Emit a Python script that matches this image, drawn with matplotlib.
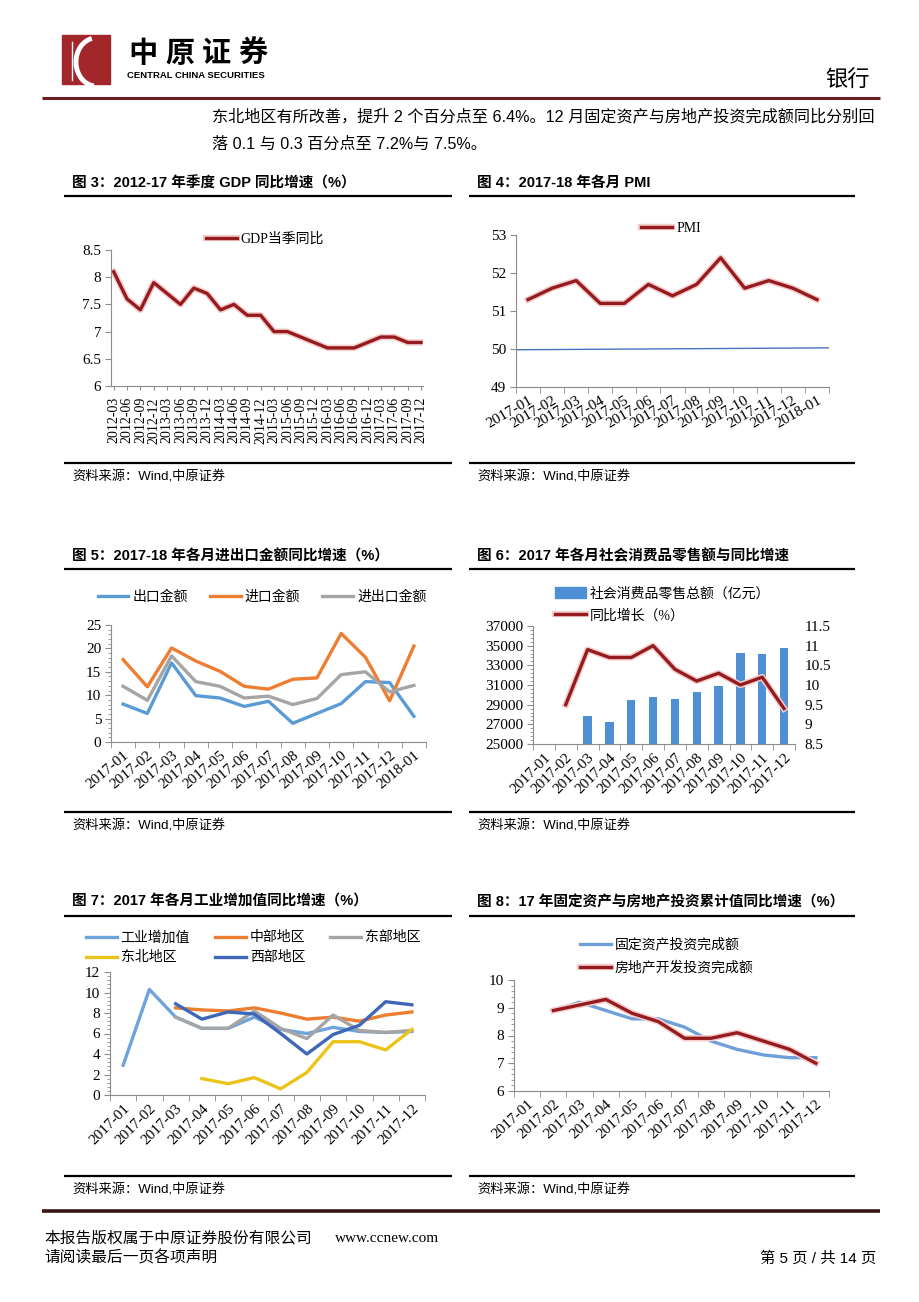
import matplotlib
matplotlib.use('Agg')
import matplotlib.pyplot as plt
import matplotlib.patheffects as pe
from matplotlib.patches import Patch, Rectangle, Arc
from matplotlib.ticker import FuncFormatter
import numpy as np

nan = np.nan
W, H = 920, 1302

SERIF = ['Liberation Serif', 'Noto Sans CJK SC']
SANS = ['Liberation Sans', 'Noto Sans CJK SC']
plt.rcParams['font.family'] = SERIF

DARKRED = '#951b1e'
AXIS_GRAY = '#8c8c8c'

# ---- data ----
gdp_quarters = ['2012-03', '2012-06', '2012-09', '2012-12', '2013-03', '2013-06', '2013-09', '2013-12',
                '2014-03', '2014-06', '2014-09', '2014-12', '2015-03', '2015-06', '2015-09', '2015-12',
                '2016-03', '2016-06', '2016-09', '2016-12', '2017-03', '2017-06', '2017-09', '2017-12']
gdp_yoy = [8.1, 7.6, 7.4, 7.9, 7.7, 7.5, 7.8, 7.7, 7.4, 7.5, 7.3, 7.3,
           7.0, 7.0, 6.9, 6.8, 6.7, 6.7, 6.7, 6.8, 6.9, 6.9, 6.8, 6.8]

months_13 = ['2017-01', '2017-02', '2017-03', '2017-04', '2017-05', '2017-06', '2017-07',
             '2017-08', '2017-09', '2017-10', '2017-11', '2017-12', '2018-01']
months_12 = months_13[:12]

pmi = [51.3, 51.6, 51.8, 51.2, 51.2, 51.7, 51.4, 51.7, 52.4, 51.6, 51.8, 51.6, 51.3]
pmi_50_line = [49.98, 50.03]   # thin reference line, left and right end

export_yoy = [8.1, 6.1, 16.9, 9.9, 9.4, 7.6, 8.7, 4.0, 6.1, 8.2, 12.9, 12.7, 5.5]
import_yoy = [17.6, 11.8, 20.1, 17.3, 15.1, 11.9, 11.3, 13.4, 13.7, 23.2, 18.1, 8.8, 20.5]
trade_yoy = [11.9, 8.9, 18.4, 12.9, 11.9, 9.4, 9.8, 8.0, 9.3, 14.4, 15.0, 10.7, 12.1]

retail_sales = [nan, nan, 27864, 27278, 29459, 29808, 29610, 30330, 30870, 34240, 34108, 34734]
retail_yoy = [nan, 9.5, 10.9, 10.7, 10.7, 11.0, 10.4, 10.1, 10.3, 10.0, 10.2, 9.4]

ind_total = [2.9, 10.3, 7.6, 6.5, 6.5, 7.6, 6.4, 6.0, 6.6, 6.2, 6.1, 6.2]
ind_central = [nan, nan, 8.5, 8.3, 8.2, 8.5, 8.0, 7.4, 7.6, 7.2, 7.8, 8.1]
ind_east = [nan, nan, 7.6, 6.5, 6.5, 8.2, 6.5, 5.5, 7.8, 6.3, 6.1, 6.3]
ind_northeast = [nan, nan, nan, 1.6, 1.1, 1.7, 0.6, 2.2, 5.2, 5.2, 4.4, 6.4]
ind_west = [nan, nan, 8.9, 7.4, 8.1, 7.9, 6.0, 4.0, 5.9, 6.8, 9.1, 8.8]

fai_yoy = [nan, 8.9, 9.2, 8.9, 8.6, 8.6, 8.3, 7.8, 7.5, 7.3, 7.2, 7.2]
property_yoy = [nan, 8.9, 9.1, 9.3, 8.8, 8.5, 7.9, 7.9, 8.1, 7.8, 7.5, 7.0]

fig = plt.figure(figsize=(W / 100, H / 100), dpi=100)

# page layer in pixel coordinates
bg = fig.add_axes([0, 0, 1, 1])
bg.set_xlim(0, W)
bg.set_ylim(H, 0)
bg.axis('off')


def hline(y, x0, x1, lw=1.6, color='black'):
    bg.plot([x0, x1], [y, y], color=color, lw=lw, solid_capstyle='butt')


def box(x0, y0, x1, y1):
    ax = fig.add_axes([x0 / W, 1 - y1 / H, (x1 - x0) / W, (y1 - y0) / H])
    ax.set_facecolor('none')
    for s in ('top', 'right'):
        ax.spines[s].set_visible(False)
    for s in ('left', 'bottom'):
        ax.spines[s].set_color(AXIS_GRAY)
        ax.spines[s].set_linewidth(0.8)
    return ax


def panel(x0, x1, y_title, y_top, y_bot, title):
    bg.text(x0 + 8, y_title, title, family=SANS, weight='bold', fontsize=10.5, va='center')
    hline(y_top, x0, x1)
    hline(y_bot, x0, x1)
    bg.text(x0 + 8, y_bot + 14, '资料来源：Wind,中原证券', family=SANS, fontsize=9.5, va='center')


def cat_axis(ax, labels, rot):
    n = len(labels)
    ax.set_xlim(-0.5, n - 0.5)
    ax.set_xticks(range(n))
    ax.set_xticklabels(labels, rotation=rot, ha='right', va='top', rotation_mode='anchor', fontsize=11)
    ax.set_xticks(np.arange(-0.5, n), minor=True)
    ax.tick_params(axis='x', which='major', length=0, pad=5)
    ax.tick_params(axis='x', which='minor', length=4, color=AXIS_GRAY, direction='out')


def val_axis(ax, lo, hi, step, minor=None):
    ax.set_ylim(lo, hi)
    ax.set_yticks(np.arange(lo, hi + step / 2, step))
    ax.yaxis.set_major_formatter(FuncFormatter(lambda v, p: f'{v:g}'))
    if minor:
        ax.set_yticks(np.arange(lo, hi + minor / 2, minor), minor=True)
    ax.tick_params(axis='y', which='both', direction='out', color=AXIS_GRAY, labelsize=11)
    ax.tick_params(axis='y', which='major', length=4, pad=3)
    ax.tick_params(axis='y', which='minor', length=2)


glow = [pe.Stroke(linewidth=4.6, foreground='#f4cccc'), pe.Normal()]

# ---- header ----
bg.add_patch(Rectangle((62, 35), 48, 49, color='#a3262b'))
bg.add_patch(Arc((96, 62), 40, 48, theta1=95, theta2=260, color='white', lw=3.5))
bg.plot([72, 72], [42, 80], color='white', lw=1)
for i, ch in enumerate('中原证券'):
    bg.text(143 + 36.5 * i, 54, ch, family=SANS, weight='bold', fontsize=21, ha='center', va='center')
bg.text(196, 75, 'CENTRAL CHINA SECURITIES', family=SANS, weight='bold', fontsize=6.8, ha='center', va='center')
bg.text(870, 81, '银行', family=SANS, fontsize=16, ha='right', va='center')
hline(97.5, 42, 880, lw=2.2, color='#6b1f22')

bg.text(212, 116, '东北地区有所改善，提升 2 个百分点至 6.4%。12 月固定资产与房地产投资完成额同比分别回',
        family=SANS, fontsize=11.6, va='center')
bg.text(212, 144, '落 0.1 与 0.3 百分点至 7.2%与 7.5%。', family=SANS, fontsize=11.6, va='center')

# ---- panel frames ----
panel(64, 452, 183, 196, 463, '图 3：2012-17 年季度 GDP 同比增速（%）')
panel(469, 855, 183, 196, 463, '图 4：2017-18 年各月 PMI')
panel(64, 452, 556, 569, 812, '图 5：2017-18 年各月进出口金额同比增速（%）')
panel(469, 855, 556, 569, 812, '图 6：2017 年各月社会消费品零售额与同比增速')
panel(64, 452, 902, 916, 1176, '图 7：2017 年各月工业增加值同比增速（%）')
panel(469, 855, 902, 916, 1176, '图 8：17 年固定资产与房地产投资累计值同比增速（%）')

leg_kw = dict(frameon=False, bbox_transform=bg.transData, prop={'family': SERIF, 'size': 10},
              handlelength=2.2, handletextpad=0.3, borderpad=0, borderaxespad=0)

# ---- chart 3: GDP ----
ax = box(111, 250, 423, 386)
x = np.arange(len(gdp_yoy))
l1, = ax.plot(x, gdp_yoy, color=DARKRED, lw=2.4, path_effects=glow)
ax.set_xlim(-0.2, len(gdp_yoy) - 0.85)
ax.set_xticks(x)
ax.set_xticklabels(gdp_quarters, rotation=90, fontsize=10)
ax.tick_params(axis='x', length=3, color=AXIS_GRAY, pad=5)
val_axis(ax, 6, 8.5, 0.5)
ax.legend([l1], ['GDP当季同比'], loc='center', bbox_to_anchor=(265, 239), **leg_kw)

# ---- chart 4: PMI ----
ax = box(516, 235, 829, 387)
x = np.arange(len(pmi))
l1, = ax.plot(x, pmi, color=DARKRED, lw=2.4, path_effects=glow)
ax.plot([-0.5, len(pmi) - 0.5], pmi_50_line, color='#4a74c0', lw=1)
cat_axis(ax, months_13, 30)
val_axis(ax, 49, 53, 1)
ax.legend([l1], ['PMI'], loc='center', bbox_to_anchor=(671, 228), **leg_kw)

# ---- chart 5: trade ----
ax = box(111, 625, 426, 742)
x = np.arange(len(export_yoy))
a, = ax.plot(x, export_yoy, color='#5b9bd5', lw=2.4)
b, = ax.plot(x, import_yoy, color='#ed7d31', lw=2.4)
c, = ax.plot(x, trade_yoy, color='#a5a5a5', lw=2.4)
cat_axis(ax, months_13, 40)
val_axis(ax, 0, 25, 5, minor=1)
ax.legend([a, b, c], ['出口金额', '进口金额', '进出口金额'], loc='center', bbox_to_anchor=(262, 597),
          ncol=3, columnspacing=1.6, **leg_kw)

# ---- chart 6: retail sales ----
ax = box(533, 626, 795, 744)
x = np.arange(len(retail_sales))
ax.bar(x, retail_sales, width=0.38, color='#4f8fd3', zorder=2)
cat_axis(ax, months_12, 45)
val_axis(ax, 25000, 37000, 2000, minor=400)
ax2 = ax.twinx()
ax2.set_facecolor('none')
for s in ('top', 'right', 'left', 'bottom'):
    ax2.spines[s].set_visible(False)
l1, = ax2.plot(x, retail_yoy, color=DARKRED, lw=2.4, path_effects=glow)
ax2.set_ylim(8.5, 11.5)
ax2.set_yticks(np.arange(8.5, 11.75, 0.5))
ax2.yaxis.set_major_formatter(FuncFormatter(lambda v, p: f'{v:g}'))
ax2.tick_params(axis='y', length=0, labelsize=11, pad=7)
ax.legend([Patch(color='#4f8fd3'), l1], ['社会消费品零售总额（亿元）', '同比增长（%）'],
          loc='upper left', bbox_to_anchor=(555, 587), labelspacing=0.6, handleheight=0.75, **leg_kw)

# ---- chart 7: industrial value added ----
ax = box(110, 972, 425, 1095)
x = np.arange(len(ind_total))
h_total, = ax.plot(x, ind_total, color='#6ea3db', lw=2.4)
h_central, = ax.plot(x, ind_central, color='#ed7d31', lw=2.4)
h_east, = ax.plot(x, ind_east, color='#a5a5a5', lw=2.4)
h_ne, = ax.plot(x, ind_northeast, color='#ecc419', lw=2.4)
h_west, = ax.plot(x, ind_west, color='#3f67b8', lw=2.4)
cat_axis(ax, months_12, 45)
val_axis(ax, 0, 12, 2, minor=0.4)
ax.legend([h_total, h_ne, h_central, h_west, h_east], ['工业增加值', '东北地区', '中部地区', '西部地区', '东部地区'],
          loc='upper left', bbox_to_anchor=(86, 931), ncol=3, columnspacing=1.8, labelspacing=0.5, **leg_kw)

# ---- chart 8: investment ----
ax = box(514, 980, 829, 1091)
x = np.arange(len(fai_yoy))
a, = ax.plot(x, fai_yoy, color='#6f9fd8', lw=2.4)
b, = ax.plot(x, property_yoy, color=DARKRED, lw=2.4, path_effects=glow)
cat_axis(ax, months_12, 42)
val_axis(ax, 6, 10, 1, minor=0.2)
ax.legend([a, b], ['固定资产投资完成额', '房地产开发投资完成额'], loc='upper left', bbox_to_anchor=(580, 938),
          labelspacing=0.65, **leg_kw)

# ---- footer ----
hline(1211, 42, 880, lw=2.6, color='#3a1717')
bg.text(44, 1238, '本报告版权属于中原证券股份有限公司', family=SANS, fontsize=11.3, va='center')
bg.text(335, 1238, 'www.ccnew.com', fontsize=11, va='center')
bg.text(44, 1258, '请阅读最后一页各项声明', family=SANS, fontsize=11.3, va='center')
bg.text(876, 1258, '第 5 页 / 共 14 页', family=SANS, fontsize=11, va='center', ha='right')

fig.savefig('out.png', dpi=100)
